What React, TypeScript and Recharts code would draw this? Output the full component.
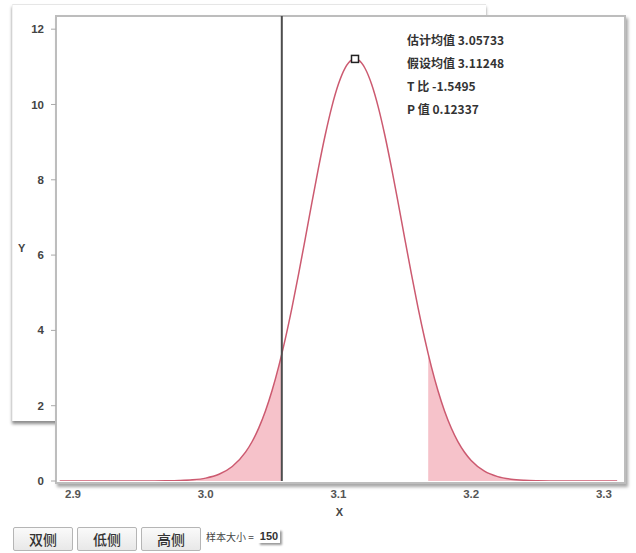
import React from 'react';
import { ComposedChart, Line, Area, Scatter, XAxis, YAxis, ReferenceLine } from 'recharts';

// x positions and curve heights
const xs = [
  2.89, 2.9, 2.91, 2.92, 2.93, 2.94, 2.95, 2.96, 2.97, 2.98, 2.99, 3.0, 3.01, 3.02, 3.03,
  3.035, 3.04, 3.045, 3.05, 3.055, 3.05733, 3.06, 3.065, 3.07, 3.075, 3.08, 3.085, 3.09, 3.095,
  3.1, 3.105, 3.11, 3.11248, 3.115, 3.12, 3.125, 3.13, 3.135, 3.14, 3.145, 3.15, 3.155, 3.16,
  3.165, 3.16763, 3.17, 3.175, 3.18, 3.185, 3.19, 3.195, 3.2, 3.21, 3.22, 3.23, 3.24, 3.25,
  3.26, 3.27, 3.28, 3.29, 3.3, 3.31,
];
const density = [
  0, 0, 0, 0, 0.00002, 0.00009, 0.00034, 0.00116, 0.00373, 0.011, 0.0301, 0.0762, 0.178, 0.384, 0.766,
  1.049, 1.411, 1.859, 2.402, 3.045, 3.376, 3.782, 4.606, 5.501, 6.44, 7.394, 8.322, 9.183, 9.938,
  10.542, 10.966, 11.183, 11.21, 11.182, 10.962, 10.537, 9.931, 9.177, 8.314, 7.386, 6.432, 5.493, 4.599,
  3.777, 3.376, 3.039, 2.398, 1.855, 1.408, 1.047, 0.764, 0.546, 0.263, 0.117, 0.0482, 0.0183, 0.00645,
  0.0021, 0.00063, 0.00017, 0.00004, 0.00001, 0,
];

const estMean = 3.05733;
const hypMean = 3.11248;
const upperCut = 3.16763;
const peakY = 11.21;

const xTicks = [2.9, 3.0, 3.1, 3.2, 3.3];
const yTicks = [0, 2, 4, 6, 8, 10, 12];

const statLines = ['估计均值 3.05733', '假设均值 3.11248', 'T 比 -1.5495', 'P 值 0.12337'];
const buttons = ['双侧', '低侧', '高侧'];
const sampleSize = 150;

const curveColor = '#cc5a70';
const shadeColor = '#f6c2ca';
const font = '"Liberation Sans", Arial, sans-serif';
const cjk = '"Noto Sans CJK SC", "Liberation Sans", sans-serif';

const data = xs.map((x, i) => ({
  x,
  y: density[i],
  lo: x <= estMean ? density[i] : null,
  hi: x >= upperCut ? density[i] : null,
}));

const SquareDot = (props: any) => {
  const { cx, cy } = props;
  return <rect x={cx - 3.5} y={cy - 3.5} width={7} height={7} fill="#fff" stroke="#222" strokeWidth={1.5} />;
};

const fmtX = (v: number) => v.toFixed(1);

export default function App() {
  return (
    <div style={{ position: 'absolute', left: 0, top: 0, width: 636, height: 553, background: '#fff', overflow: 'hidden' }}>
      {/* window behind the plot */}
      <div
        style={{
          position: 'absolute', left: 12, top: 4, width: 473, height: 416,
          borderTop: '1px solid #e6e6e6', borderLeft: '1px solid #f2f2f2',
          boxShadow: '0 3px 3px rgba(0,0,0,0.45)', background: '#fff',
        }}
      />
      {/* plot frame */}
      <div
        style={{
          position: 'absolute', left: 55, top: 15, width: 567, height: 465,
          border: '2px solid #bdbdbd', background: '#fff',
          boxShadow: '2px 3px 3px rgba(0,0,0,0.35)',
        }}
      />
      <div style={{ position: 'absolute', left: 0, top: 0 }}>
        <ComposedChart width={636} height={521} data={data} margin={{ top: 16, right: 13, left: 0, bottom: 0 }}>
          <XAxis
            type="number"
            dataKey="x"
            domain={[2.8872, 3.3144]}
            allowDataOverflow
            ticks={xTicks}
            tickFormatter={fmtX}
            axisLine={false}
            tickLine={false}
            tickSize={0}
            tickMargin={9}
            height={40}
            tick={{ fill: '#555', fontSize: 11.5, fontFamily: font, fontWeight: 600 }}
            label={{ value: 'X', position: 'insideBottom', offset: 5, fill: '#444', fontSize: 11, fontFamily: font, fontWeight: 600 }}
          />
          <YAxis
            type="number"
            domain={[0, 12.35]}
            allowDataOverflow
            ticks={yTicks}
            axisLine={false}
            tickSize={5}
            tickMargin={7}
            tickLine={{ stroke: '#aaa' }}
            width={56}
            tick={{ fill: '#444', fontSize: 11.5, fontFamily: font, fontWeight: 600 }}
            label={{ value: 'Y', position: 'insideLeft', offset: 18, fill: '#444', fontSize: 11, fontFamily: font, fontWeight: 600 }}
          />
          <Area type="monotone" dataKey="lo" stroke="none" fill={shadeColor} fillOpacity={1} isAnimationActive={false} dot={false} activeDot={false} />
          <Area type="monotone" dataKey="hi" stroke="none" fill={shadeColor} fillOpacity={1} isAnimationActive={false} dot={false} activeDot={false} />
          <Line type="monotone" dataKey="y" stroke={curveColor} strokeWidth={1.5} dot={false} activeDot={false} isAnimationActive={false} />
          <ReferenceLine x={estMean} stroke="#4d4d4d" strokeWidth={2} />
          <Scatter data={[{ x: hypMean, y: peakY }]} dataKey="y" shape={SquareDot} isAnimationActive={false} />
        </ComposedChart>
      </div>
      {/* statistics box */}
      <div style={{ position: 'absolute', left: 407, top: 28, fontFamily: cjk, fontSize: 12, fontWeight: 700, color: '#333', lineHeight: '23px' }}>
        {statLines.map((s) => (
          <div key={s}>{s}</div>
        ))}
      </div>
      {/* controls */}
      <div style={{ position: 'absolute', left: 13, top: 527, display: 'flex', alignItems: 'center', fontFamily: cjk }}>
        {buttons.map((b) => (
          <div
            key={b}
            style={{
              width: 58, height: 22, marginRight: 4, border: '1px solid #b5b5b5', borderRadius: 2,
              background: 'linear-gradient(#fafafa, #e8e8e8)', color: '#333', fontSize: 14, fontWeight: 500,
              display: 'flex', alignItems: 'center', justifyContent: 'center',
            }}
          >
            {b}
          </div>
        ))}
        <span style={{ fontSize: 10, color: '#444', marginLeft: 1, marginTop: -6 }}>样本大小 =</span>
        <span
          style={{
            fontFamily: font, fontSize: 11, fontWeight: 700, color: '#333', marginLeft: 4, marginTop: -6,
            padding: '1px 2px', background: '#fff', boxShadow: '2px 2px 2px rgba(0,0,0,0.4)',
          }}
        >
          {sampleSize}
        </span>
      </div>
    </div>
  );
}
